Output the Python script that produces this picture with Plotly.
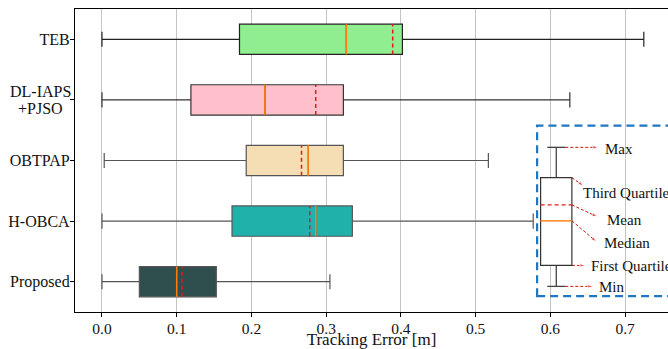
import plotly.graph_objects as go

methods = ["TEB", "DL-IAPS<br>+PJSO", "OBTPAP", "H-OBCA", "Proposed"]
q_min = [0.0, 0.0, 0.003, 0.0, 0.0]
q1 = [0.184, 0.119, 0.193, 0.174, 0.050]
median = [0.327, 0.218, 0.276, 0.286, 0.100]
mean = [0.389, 0.286, 0.267, 0.278, 0.107]
q3 = [0.402, 0.323, 0.323, 0.335, 0.153]
q_max = [0.725, 0.626, 0.517, 0.577, 0.305]
fills = ["#90EE90", "#FFC0CB", "#F5DEB3", "#20B2AA", "#2F4F4F"]
edges = ["#222222", "#333333", "#555555", "#555555", "#555555"]
x_ticks = [0.0, 0.1, 0.2, 0.3, 0.4, 0.5, 0.6, 0.7]

FONT = "Liberation Serif, Times New Roman, serif"
n = len(methods)
pos = [n - 1 - i for i in range(n)]
BW = 0.5

fig = go.Figure()
for i in range(n):
    fig.add_trace(go.Box(
        y=[pos[i]], q1=[q1[i]], median=[median[i]], q3=[q3[i]],
        lowerfence=[q_min[i]], upperfence=[q_max[i]],
        orientation="h", width=BW, whiskerwidth=0.5,
        fillcolor=fills[i], line=dict(color=edges[i], width=1.2),
        boxpoints=False, showlegend=False, hoverinfo="skip"))
for i in range(n):
    fig.add_trace(go.Scatter(x=[median[i], median[i]], y=[pos[i] - BW / 2, pos[i] + BW / 2],
                             mode="lines", line=dict(color="#FF7F0E", width=1.5),
                             showlegend=False, hoverinfo="skip"))
    fig.add_trace(go.Scatter(x=[mean[i], mean[i]], y=[pos[i] - BW / 2, pos[i] + BW / 2],
                             mode="lines", line=dict(color="#E8161B", width=1.5, dash="4px,3px"),
                             showlegend=False, hoverinfo="skip"))

# ---- legend illustration (pixel helpers for decoration) ----
def X(px):
    return (px - 102.0) / 748.0

def Y(py):
    return 4 - (py - 39.0) / 60.75

shapes = []
shapes.append(dict(type="rect", xref="x", yref="y", x0=X(537.5), x1=X(670), y0=Y(296.5), y1=Y(125.5),
                   line=dict(color="#1f77c4", width=2.2, dash="8px,5px"), fillcolor="rgba(0,0,0,0)", layer="above"))
cx = X(556.7)
shapes.append(dict(type="line", xref="x", yref="y", x0=cx, x1=cx, y0=Y(147.3), y1=Y(177.7),
                   line=dict(color="#444", width=1.3)))
shapes.append(dict(type="line", xref="x", yref="y", x0=cx, x1=cx, y0=Y(265.7), y1=Y(286.7),
                   line=dict(color="#444", width=1.3)))
shapes.append(dict(type="line", xref="x", yref="y", x0=X(547.7), x1=X(565.7), y0=Y(147.3), y1=Y(147.3),
                   line=dict(color="#444", width=1.3)))
shapes.append(dict(type="line", xref="x", yref="y", x0=X(547.7), x1=X(565.7), y0=Y(286.7), y1=Y(286.7),
                   line=dict(color="#444", width=1.3)))
shapes.append(dict(type="rect", xref="x", yref="y", x0=X(541), x1=X(572.3), y0=Y(265.7), y1=Y(177.7),
                   line=dict(color="#333", width=1.2), fillcolor="white"))
shapes.append(dict(type="line", xref="x", yref="y", x0=X(541), x1=X(572.3), y0=Y(205), y1=Y(205),
                   line=dict(color="#E8161B", width=1.4, dash="4px,3px")))
shapes.append(dict(type="line", xref="x", yref="y", x0=X(541), x1=X(572.3), y0=Y(221), y1=Y(221),
                   line=dict(color="#FF7F0E", width=1.4)))

arrows = [
    ("Max", (565.7, 147.3), (599, 147.3), (603, 149)),
    ("Third Quartile", (572.3, 177.7), (584, 186), (581, 193)),
    ("Mean", (572.3, 205), (598, 217), (605, 220)),
    ("Median", (572.3, 221), (597, 242), (602, 243)),
    ("First Quartile", (572.3, 265.7), (586, 265.7), (589, 266)),
    ("Min", (565.7, 286.7), (594, 286.7), (597, 287)),
]
annotations = []
for label, (sx, sy), (ex, ey), (tx, ty) in arrows:
    fig.add_trace(go.Scatter(x=[X(sx), X(ex)], y=[Y(sy), Y(ey)], mode="lines+markers",
                             line=dict(color="#CC1111", width=1, dash="3px,2px"),
                             marker=dict(symbol=["circle", "arrow"], size=[0, 6], angleref="previous",
                                         color="#CC1111"),
                             showlegend=False, hoverinfo="skip"))
    annotations.append(dict(x=X(tx), y=Y(ty), xref="x", yref="y", text=label, showarrow=False,
                            xanchor="left", yanchor="middle", font=dict(family=FONT, size=15, color="#111")))

# multi-line category label: draw lines with tighter spacing, centred like the original
tick_text = []
for i, m in enumerate(methods):
    parts = m.split("<br>")
    if len(parts) == 1:
        tick_text.append(m)
    else:
        tick_text.append("")
        k = len(parts)
        for j, p in enumerate(parts):
            annotations.append(dict(xref="paper", yref="y", x=(40.5 - 75) / 593.0,
                                    y=pos[i] + (((k - 1) / 2 - j) * 17.4) / 60.75,
                                    text=p, showarrow=False, xanchor="center", yanchor="middle",
                                    font=dict(family=FONT, size=16, color="#111")))

fig.update_layout(
    width=668, height=349,
    margin=dict(l=75, r=0, t=9, b=37),
    plot_bgcolor="white", paper_bgcolor="white",
    shapes=shapes, annotations=annotations,
    font=dict(family=FONT, color="#111"),
    xaxis=dict(range=[X(75), X(668.5)], tickvals=x_ticks, ticktext=[f"{v:.1f}" for v in x_ticks],
               showgrid=True, gridcolor="#c4c4c4", gridwidth=1, zeroline=False,
               showline=True, linecolor="black", linewidth=1.3, mirror=True,
               ticks="outside", ticklen=4, tickcolor="black", ticklabelstandoff=-2,
               tickfont=dict(family=FONT, size=15.5, color="#111"),
               title=dict(text="Tracking Error [m]", font=dict(family=FONT, size=17, color="#111"), standoff=0),
               automargin=False),
    yaxis=dict(range=[-0.5, n - 0.5], tickvals=pos, ticktext=tick_text,
               showgrid=False, zeroline=False, showline=True, linecolor="black", linewidth=1.3,
               ticks="outside", ticklen=4, tickcolor="black", ticklabelstandoff=-3,
               tickfont=dict(family=FONT, size=16, color="#111"),
               automargin=False),
)
fig.write_html("out.html", config={"displayModeBar": False},
               post_script="document.body.style.margin='0';document.body.style.overflow='hidden';")
